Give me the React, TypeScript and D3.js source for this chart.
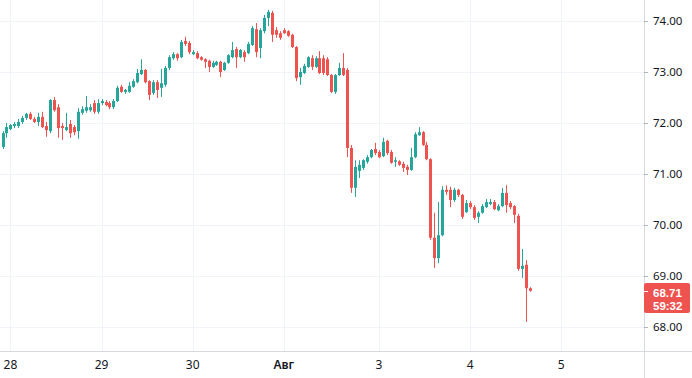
import React from "react";
import * as d3 from "d3";

const opens = [71.53,71.80,71.88,71.94,71.94,72.02,72.10,72.18,72.08,72.02,72.12,71.94,71.84,72.45,72.31,71.94,71.86,71.98,71.92,71.84,72.20,72.24,72.25,72.39,72.22,72.39,72.41,72.39,72.31,72.43,72.71,72.61,72.61,72.71,72.80,72.96,73.04,72.82,72.59,72.80,72.69,72.75,73.08,73.27,73.35,73.29,73.61,73.57,73.35,73.37,73.29,73.25,73.22,73.10,73.14,73.20,73.04,73.18,73.29,73.45,73.29,73.39,73.37,73.53,73.84,73.47,73.80,74.06,74.16,73.82,73.76,73.82,73.80,73.73,73.49,72.90,72.98,73.10,73.27,73.10,73.27,73.27,73.25,72.94,72.61,72.94,73.08,73.04,71.51,70.73,71.06,71.12,71.24,71.33,71.49,71.43,71.35,71.65,71.43,71.24,71.25,71.20,71.14,71.08,71.33,71.76,71.82,71.57,71.29,69.75,69.35,69.80,70.69,70.69,70.49,70.69,70.59,70.25,70.43,70.35,70.16,70.24,70.35,70.41,70.45,70.29,70.37,70.63,70.43,70.37,70.18,69.14,69.22,68.76];
const highs = [71.84,72.00,71.98,72.02,72.08,72.14,72.20,72.22,72.12,72.20,72.22,72.02,72.47,72.51,72.37,72.00,72.20,72.06,71.96,72.29,72.33,72.53,72.37,72.45,72.47,72.47,72.45,72.43,72.47,72.73,72.75,72.67,72.80,72.86,73.06,73.25,73.06,72.84,72.84,72.84,73.06,73.12,73.33,73.39,73.37,73.63,73.69,73.61,73.43,73.41,73.31,73.27,73.24,73.22,73.22,73.22,73.20,73.35,73.59,73.49,73.45,73.43,73.59,73.90,73.96,73.86,74.12,74.22,74.20,73.88,73.80,73.86,73.82,73.75,73.51,73.08,73.16,73.31,73.33,73.31,73.41,73.33,73.29,72.96,72.96,73.18,73.37,73.08,71.57,71.27,71.27,71.29,71.37,71.49,71.61,71.47,71.71,71.67,71.47,71.33,71.27,71.24,71.18,71.51,71.82,71.92,71.84,71.63,71.31,70.24,70.45,70.76,70.78,70.75,70.73,70.71,70.61,70.49,70.47,70.39,70.27,70.41,70.51,70.51,70.49,70.41,70.73,70.78,70.47,70.39,70.22,69.53,69.31,68.78];
const lows = [71.49,71.71,71.86,71.90,71.90,71.98,72.06,72.06,72.00,71.94,71.90,71.73,71.80,72.22,71.71,71.67,71.84,71.71,71.76,71.69,72.16,72.20,72.22,72.18,72.18,72.35,72.33,72.27,72.27,72.41,72.59,72.57,72.59,72.69,72.78,72.94,72.78,72.45,72.55,72.49,72.51,72.71,73.04,73.24,73.22,73.27,73.51,73.35,73.33,73.25,73.22,73.08,73.00,73.08,73.12,72.90,73.02,73.16,73.27,73.08,73.27,73.20,73.35,73.51,73.29,73.27,73.76,73.90,73.59,73.67,73.63,73.75,73.69,73.47,72.82,72.75,72.96,73.08,73.04,73.08,72.96,72.94,72.92,72.59,72.57,72.92,72.92,71.33,70.63,70.55,70.92,71.08,71.20,71.31,71.37,71.31,71.33,71.37,71.20,71.14,71.16,71.04,70.98,71.06,71.31,71.75,71.55,71.27,69.71,69.16,69.25,69.78,70.59,70.35,70.45,70.55,70.12,70.24,70.31,70.10,70.04,70.22,70.33,70.39,70.29,70.27,70.35,70.24,70.31,70.04,69.10,68.96,68.10,68.69];
const closes = [71.80,71.92,71.96,71.98,72.02,72.10,72.18,72.08,72.02,72.12,71.92,71.86,72.45,72.25,71.90,71.90,71.92,71.80,71.82,72.22,72.27,72.31,72.31,72.22,72.39,72.43,72.35,72.31,72.43,72.69,72.61,72.65,72.73,72.82,72.98,73.04,72.80,72.55,72.80,72.65,72.78,73.08,73.29,73.35,73.27,73.59,73.55,73.39,73.39,73.27,73.24,73.20,73.10,73.18,73.20,73.00,73.18,73.33,73.43,73.29,73.43,73.29,73.55,73.86,73.39,73.82,74.06,74.18,73.73,73.73,73.67,73.76,73.71,73.49,72.88,73.00,73.12,73.29,73.10,73.27,72.98,72.98,72.94,72.61,72.94,73.08,72.94,71.51,70.73,71.14,71.18,71.27,71.33,71.47,71.41,71.33,71.63,71.41,71.22,71.27,71.18,71.12,71.08,71.33,71.78,71.82,71.57,71.29,69.75,69.35,69.80,70.69,70.65,70.49,70.69,70.59,70.16,70.43,70.35,70.14,70.24,70.37,70.45,70.45,70.31,70.37,70.63,70.39,70.35,70.20,69.14,69.20,68.76,68.71];

const dayLabels = ["28", "29", "30", "Авг", "3", "4", "5"];
const dayStartIdx = [2, 25, 48, 71, 95, 118, 141];
const priceTicks = [68, 69, 70, 71, 72, 73, 74];
const lastPrice = 68.71;
const countdown = "59:32";

const W = 692;
const H = 378;
const AXIS_X = 644;
const AXIS_Y = 351;
const UP = "#26a69a";
const DOWN = "#ef5350";
const GRID = "#f0f3fa";
const FONT = "'Noto Sans', 'Open Sans', sans-serif";
const BOX_FONT = "'Liberation Sans', Arial, sans-serif";

export default function App() {
  const x = d3.scaleLinear().domain([0, 133]).range([2.5, 529.5]);
  const y = d3.scaleLinear().domain([68, 74]).range([327, 21]);
  const idx = d3.range(opens.length);
  const ly = Math.round(y(lastPrice));

  return (
    <svg width={W} height={H} style={{ position: "absolute", left: 0, top: 0, background: "#fff" }}>
      <rect x={0} y={0} width={W} height={H} fill="#fff" />
      {priceTicks.map((p) => (
        <line key={"h" + p} x1={0} x2={AXIS_X} y1={Math.round(y(p)) + 0.5} y2={Math.round(y(p)) + 0.5} stroke={GRID} />
      ))}
      {dayStartIdx.map((d, k) => (
        <line key={"v" + k} x1={Math.round(x(d)) + 0.5} x2={Math.round(x(d)) + 0.5} y1={0} y2={AXIS_Y} stroke={GRID} />
      ))}
      {idx.map((i) => {
        const o = opens[i], c = closes[i], h = highs[i], l = lows[i];
        const col = c >= o ? UP : DOWN;
        const cx = Math.round(x(i));
        const top = Math.min(y(o), y(c));
        const bh = Math.max(1, Math.abs(y(o) - y(c)));
        return (
          <g key={i}>
            <line x1={cx + 0.5} x2={cx + 0.5} y1={y(h)} y2={y(l)} stroke={col} strokeWidth={1} />
            <rect x={cx - 1} y={top} width={3} height={bh} fill={col} />
          </g>
        );
      })}
      <line x1={0} x2={W} y1={AXIS_Y + 0.5} y2={AXIS_Y + 0.5} stroke="#d6d9e0" />
      <line x1={AXIS_X + 0.5} x2={AXIS_X + 0.5} y1={0} y2={H} stroke="#d6d9e0" />
      {priceTicks.map((p) => (
        <g key={"t" + p}>
          <line x1={AXIS_X} x2={AXIS_X + 4} y1={Math.round(y(p)) + 0.5} y2={Math.round(y(p)) + 0.5} stroke="#b2b5be" />
          <text x={653} y={y(p) + 3.5} fontSize={11.5} fontFamily={FONT} fill="#131722">
            {p.toFixed(2)}
          </text>
        </g>
      ))}
      {dayLabels.map((lab, k) => (
        <text
          key={"d" + k}
          x={x(dayStartIdx[k])}
          y={369}
          textAnchor="middle"
          fontSize={12}
          fontWeight={lab === "Авг" ? 600 : 400}
          fontFamily={FONT}
          fill="#131722"
        >
          {lab}
        </text>
      ))}
      <g>
        <rect x={AXIS_X} y={ly - 8} width={46} height={30} fill={DOWN} rx={2} />
        <line x1={AXIS_X} x2={AXIS_X + 4} y1={ly + 0.5} y2={ly + 0.5} stroke="#fff" />
        <text x={653} y={ly + 5.5} fontSize={11.5} fontWeight={700} fontFamily={BOX_FONT} fill="#fff">
          {lastPrice.toFixed(2)}
        </text>
        <text x={653} y={ly + 18.5} fontSize={11.5} fontWeight={700} fontFamily={BOX_FONT} fill="#fff">
          {countdown}
        </text>
      </g>
    </svg>
  );
}
